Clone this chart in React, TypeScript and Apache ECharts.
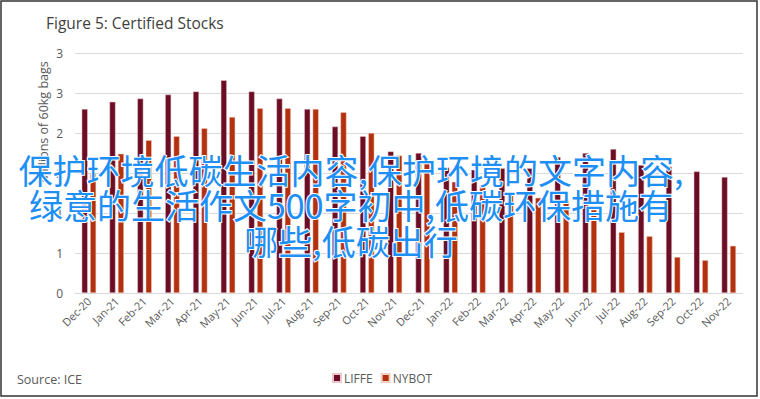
import React, { useEffect, useRef } from "react";
import * as echarts from "echarts";

const categories = [
  "Dec-20", "Jan-21", "Feb-21", "Mar-21", "Apr-21", "May-21", "Jun-21", "Jul-21",
  "Aug-21", "Sep-21", "Oct-21", "Nov-21", "Dec-21", "Jan-22", "Feb-22", "Mar-22",
  "Apr-22", "May-22", "Jun-22", "Jul-22", "Aug-22", "Sep-22", "Oct-22", "Nov-22",
];

const liffe = [
  2.30, 2.39, 2.43, 2.48, 2.52, 2.66, 2.52, 2.43, 2.30, 2.08, 1.96, 1.77,
  1.75, 1.57, 1.54, 1.56, 1.56, 1.70, 1.75, 1.80, 1.60, 1.58, 1.52, 1.45,
];

const nybot = [
  1.50, 1.74, 1.91, 1.96, 2.06, 2.20, 2.31, 2.31, 2.30, 2.26, 2.00, 1.72,
  1.64, 1.39, 1.35, 1.22, 1.19, 1.16, 1.04, 0.76, 0.71, 0.45, 0.41, 0.59,
];

const titleText = "Figure 5: Certified Stocks";
const yAxisName = "Millions of 60kg bags";
const sourceText = "Source: ICE";
const overlayLines = [
  "保护环境低碳生活内容,保护环境的文字内容,",
  "绿意的生活作文500字初中,低碳环保措施有",
  "哪些,低碳出行",
];

const FONT = "'Open Sans', 'Noto Sans', sans-serif";

export default function App() {
  const ref = useRef<HTMLDivElement>(null);

  useEffect(() => {
    if (!ref.current) return;
    const chart = echarts.init(ref.current, null, { renderer: "svg" });
    chart.setOption({
      animation: false,
      backgroundColor: "#ffffff",
      textStyle: { fontFamily: FONT },
      title: {
        text: titleText,
        left: 41,
        top: 10,
        textStyle: { fontSize: 15.5, fontWeight: "normal", color: "#404040", fontFamily: FONT },
      },
      legend: {
        data: ["LIFFE", "NYBOT"],
        left: 327,
        top: 367,
        icon: "rect",
        itemWidth: 8,
        itemHeight: 8,
        itemGap: 8,
        textStyle: { fontSize: 12, color: "#595959", fontFamily: FONT, padding: [0, 0, 0, -2] },
      },
      grid: { left: 75, right: 17.3, top: 53, bottom: 106, containLabel: false },
      xAxis: {
        type: "category",
        data: categories,
        axisLine: { lineStyle: { color: "#d9d9d9" } },
        axisTick: { show: false },
        axisLabel: {
          rotate: 45,
          interval: 0,
          fontSize: 11,
          color: "#595959",
          margin: 6,
          fontFamily: FONT,
        },
      },
      yAxis: {
        type: "value",
        min: 0,
        max: 3,
        interval: 0.5,
        axisLine: { show: false },
        axisTick: { show: false },
        splitLine: { lineStyle: { color: "#d9d9d9", width: 1 } },
        axisLabel: {
          fontSize: 12,
          color: "#595959",
          margin: 12,
          fontFamily: FONT,
          formatter: (v: number) => String(Math.round(v)),
        },
      },
      series: [
        {
          name: "LIFFE",
          type: "bar",
          data: liffe,
          barWidth: 6,
          barGap: "40%",
          itemStyle: { color: "#6b0d24", borderColor: "#e8c8cc", borderWidth: 0.5 },
        },
        {
          name: "NYBOT",
          type: "bar",
          data: nybot,
          barWidth: 6,
          itemStyle: { color: "#b3310e", borderColor: "#f0cfc4", borderWidth: 0.5 },
        },
      ],
      graphic: [
        {
          type: "rect",
          shape: { x: 1, y: 1, width: 756, height: 395 },
          style: { fill: "none", stroke: "#333333", lineWidth: 1.5 },
          silent: true,
        },
        {
          type: "text",
          x: 43,
          y: 122,
          rotation: Math.PI / 2,
          style: {
            text: yAxisName,
            fontSize: 12.5,
            fill: "#595959",
            fontFamily: FONT,
            align: "center",
            verticalAlign: "middle",
          },
        },
        {
          type: "text",
          x: 17,
          y: 379,
          style: {
            text: sourceText,
            fontSize: 12.5,
            fill: "#595959",
            fontFamily: FONT,
            align: "left",
            verticalAlign: "middle",
          },
        },
        ...overlayLines.map((line, i) => ({
          type: "text",
          x: 351,
          y: 169 + i * 35.5,
          z: 100,
          style: {
            text: line,
            fontSize: 34,
            fill: "#1e8ff5",
            stroke: "#ffffff",
            lineWidth: 2,
            fontFamily: "'Noto Sans CJK SC', sans-serif",
            align: "center",
            verticalAlign: "middle",
          },
        })),
      ],
    });
    return () => chart.dispose();
  }, []);

  return (
    <div
      ref={ref}
      style={{ position: "fixed", left: 0, top: 0, width: 760, height: 399 }}
    />
  );
}
